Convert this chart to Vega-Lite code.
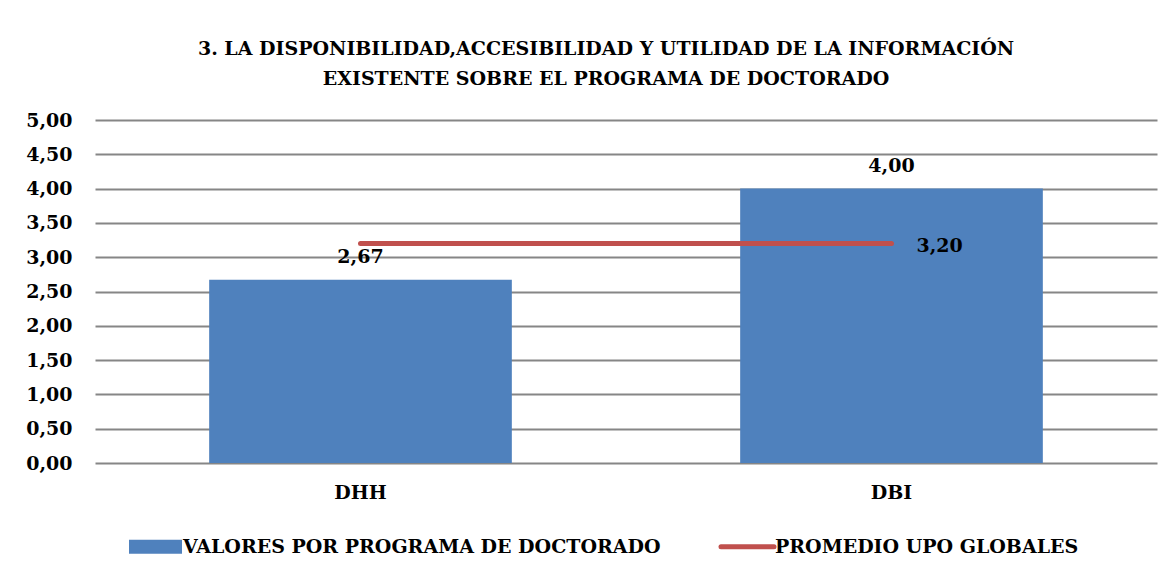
{
  "$schema": "https://vega.github.io/schema/vega-lite/v6.json",
  "width": 1062,
  "height": 343,
  "autosize": {"type": "none"},
  "padding": {"left": 95, "top": 120, "right": 18, "bottom": 114},
  "background": "white",
  "title": {
    "text": ["3. LA DISPONIBILIDAD,ACCESIBILIDAD Y UTILIDAD DE LA INFORMACIÓN", "EXISTENTE SOBRE EL PROGRAMA DE DOCTORADO"],
    "font": "DejaVu Serif",
    "fontSize": 19,
    "fontWeight": "bold",
    "color": "black",
    "lineHeight": 30,
    "anchor": "middle",
    "dx": -20,
    "offset": 22
  },
  "data": {
    "values": [
      {"programa": "DHH", "valor": 2.67, "promedio": 3.2, "serie": "VALORES POR PROGRAMA DE DOCTORADO", "serie2": "PROMEDIO UPO GLOBALES"},
      {"programa": "DBI", "valor": 4.0, "promedio": 3.2, "serie": "VALORES POR PROGRAMA DE DOCTORADO", "serie2": "PROMEDIO UPO GLOBALES"}
    ]
  },
  "encoding": {
    "x": {
      "field": "programa",
      "type": "nominal",
      "sort": null,
      "scale": {"paddingInner": 0.43, "paddingOuter": 0.215},
      "axis": {
        "title": null,
        "labelAngle": 0,
        "domain": false,
        "ticks": false,
        "labelPadding": 20,
        "labelFont": "DejaVu Serif",
        "labelFontSize": 19,
        "labelFontWeight": "bold",
        "labelColor": "black"
      }
    }
  },
  "layer": [
    {
      "mark": {"type": "bar", "color": "#4F81BD"},
      "encoding": {
        "y": {
          "field": "valor",
          "type": "quantitative",
          "scale": {"domain": [0, 5], "nice": false},
          "axis": {"title": null, "values": [0, 0.5, 1, 1.5, 2, 2.5, 3, 3.5, 4, 4.5, 5], "format": ".2f", "labelOverlap": false, "domain": false, "ticks": false, "labelPadding": 23, "grid": true, "gridColor": "#868686", "gridWidth": 2, "labelFont": "DejaVu Serif", "labelFontSize": 19, "labelFontWeight": "bold", "labelColor": "black"}
        },
        "color": {
          "field": "serie",
          "type": "nominal",
          "scale": {
            "domain": ["VALORES POR PROGRAMA DE DOCTORADO", "PROMEDIO UPO GLOBALES"],
            "range": ["#4F81BD", "#C0504D"]
          },
          "legend": {
            "title": null,
            "orient": "none",
            "legendX": 51,
            "legendY": 417,
            "direction": "horizontal",
            "columnPadding": 50,
            "symbolSize": 2809,
            "symbolStrokeWidth": 0,
            "labelOffset": 18,
            "labelLimit": 0,
            "labelFont": "DejaVu Serif",
            "labelFontSize": 19,
            "labelFontWeight": "bold",
            "labelColor": "black",
            "encode": {
              "symbols": {
                "update": {
                  "shape": {"signal": "datum.value === 'PROMEDIO UPO GLOBALES' ? 'M-1,0H1' : 'M-1,-0.26H1V0.26H-1Z'"},
                  "fill": {"signal": "datum.value === 'PROMEDIO UPO GLOBALES' ? 'transparent' : '#4F81BD'"},
                  "stroke": {"signal": "datum.value === 'PROMEDIO UPO GLOBALES' ? '#C0504D' : 'transparent'"},
                  "strokeWidth": {"signal": "datum.value === 'PROMEDIO UPO GLOBALES' ? 5 : 0"},
                  "strokeCap": {"value": "round"},
                  "opacity": {"value": 1}
                }
              }
            }
          }
        }
      }
    },
    {
      "mark": {"type": "line", "strokeWidth": 5, "strokeCap": "round"},
      "encoding": {
        "y": {
          "field": "promedio",
          "type": "quantitative",
          "axis": {"title": null, "values": [0, 0.5, 1, 1.5, 2, 2.5, 3, 3.5, 4, 4.5, 5], "format": ".2f", "labelOverlap": false, "domain": false, "ticks": false, "labelPadding": 23, "grid": true, "gridColor": "#868686", "gridWidth": 2, "labelFont": "DejaVu Serif", "labelFontSize": 19, "labelFontWeight": "bold", "labelColor": "black"}
        },
        "color": {"field": "serie2", "type": "nominal"}
      }
    },
    {
      "mark": {"type": "text", "font": "DejaVu Serif", "fontSize": 19, "fontWeight": "bold", "color": "black", "baseline": "middle", "dy": -23},
      "encoding": {
        "y": {
          "field": "valor",
          "type": "quantitative",
          "axis": {"title": null, "values": [0, 0.5, 1, 1.5, 2, 2.5, 3, 3.5, 4, 4.5, 5], "format": ".2f", "labelOverlap": false, "domain": false, "ticks": false, "labelPadding": 23, "grid": true, "gridColor": "#868686", "gridWidth": 2, "labelFont": "DejaVu Serif", "labelFontSize": 19, "labelFontWeight": "bold", "labelColor": "black"}
        },
        "text": {"field": "valor", "type": "quantitative", "format": ".2f"}
      }
    },
    {
      "transform": [{"filter": "datum.programa === 'DBI'"}],
      "mark": {"type": "text", "font": "DejaVu Serif", "fontSize": 19, "fontWeight": "bold", "color": "black", "baseline": "middle", "align": "left", "dx": 25, "dy": 3},
      "encoding": {
        "y": {
          "field": "promedio",
          "type": "quantitative",
          "axis": {"title": null, "values": [0, 0.5, 1, 1.5, 2, 2.5, 3, 3.5, 4, 4.5, 5], "format": ".2f", "labelOverlap": false, "domain": false, "ticks": false, "labelPadding": 23, "grid": true, "gridColor": "#868686", "gridWidth": 2, "labelFont": "DejaVu Serif", "labelFontSize": 19, "labelFontWeight": "bold", "labelColor": "black"}
        },
        "text": {"field": "promedio", "type": "quantitative", "format": ".2f"}
      }
    }
  ],
  "config": {
    "locale": {"number": {"decimal": ",", "thousands": ".", "grouping": [3], "currency": ["", " €"]}},
    "view": {"stroke": null}
  }
}
